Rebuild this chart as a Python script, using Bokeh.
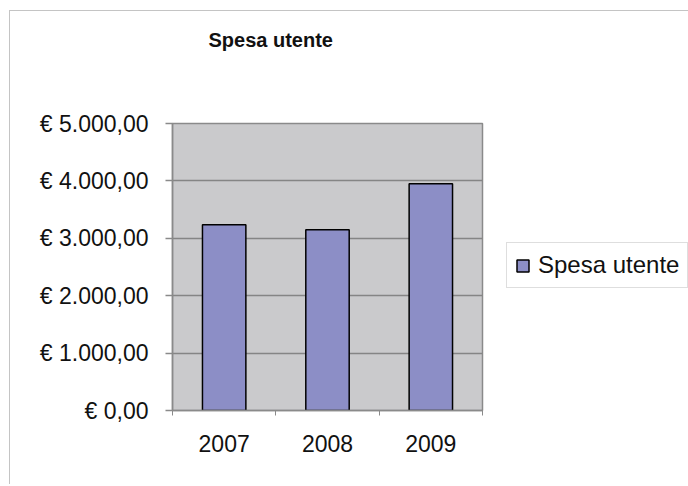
from bokeh.plotting import figure
from bokeh.models import ColumnDataSource, FixedTicker, Legend, LegendItem, Range1d, Title
from bokeh.embed import file_html
from bokeh.resources import INLINE

years = ["2007", "2008", "2009"]
spesa = [3235, 3150, 3950]
y_ticks = [0, 1000, 2000, 3000, 4000, 5000]
y_tick_labels = ["€ 0,00", "€ 1.000,00", "€ 2.000,00", "€ 3.000,00", "€ 4.000,00", "€ 5.000,00"]
series_name = "Spesa utente"
chart_title = "Spesa utente"

FONT = "Liberation Sans"
x_pos = [i + 0.5 for i in range(len(years))]
src = ColumnDataSource(dict(x=x_pos, top=spesa, year=years))

p = figure(title=None, frame_width=310, frame_height=287, output_backend="svg",
           toolbar_location=None,
           x_range=Range1d(0, len(years)), y_range=Range1d(0, y_ticks[-1]),
           min_border_left=162, min_border_right=206, min_border_top=112,
           min_border_bottom=74)
p.styles = {"margin-left": "9px", "margin-top": "10px",
            "border-left": "1px solid #c4c4c4", "border-top": "1px solid #c4c4c4"}
p.background_fill_color = "#CACACC"
p.border_fill_color = "white"
p.outline_line_color = "#8a8a8a"
p.outline_line_width = 1.5

r = p.vbar(x="x", top="top", width=0.42, source=src, fill_color="#8C8EC6",
           line_color="black", line_width=1.5)

spacer = Title(text=" ", text_font_size="1px", standoff=70)
p.add_layout(spacer, "above")
title = Title(text=chart_title, align="left", offset=36, standoff=0,
              text_font=FONT, text_font_size="20px", text_font_style="bold",
              text_color="#111111")
p.add_layout(title, "above")

p.xgrid.visible = False
p.ygrid.ticker = FixedTicker(ticks=y_ticks)
p.ygrid.grid_line_color = "#858585"
p.ygrid.grid_line_width = 1.5

xa = p.xaxis[0]
xa.ticker = FixedTicker(ticks=x_pos, minor_ticks=list(range(len(years) + 1)))
xa.major_label_overrides = {x: y for x, y in zip(x_pos, years)}
xa.major_tick_out = 0
xa.major_tick_in = 0
xa.minor_tick_out = 5
xa.minor_tick_in = 0
xa.minor_tick_line_color = "#8a8a8a"
xa.axis_line_color = "#8a8a8a"
xa.axis_line_width = 1.5
xa.major_label_standoff = 19

ya = p.yaxis[0]
ya.ticker = FixedTicker(ticks=y_ticks, minor_ticks=[])
ya.major_label_overrides = {t: l for t, l in zip(y_ticks, y_tick_labels)}
ya.major_tick_out = 7
ya.major_tick_in = 0
ya.major_tick_line_color = "#8a8a8a"
ya.major_tick_line_width = 1.5
ya.axis_line_color = "#8a8a8a"
ya.axis_line_width = 1.5
ya.major_label_standoff = 17

for ax in (xa, ya):
    ax.major_label_text_font = FONT
    ax.major_label_text_font_size = "23px"
    ax.major_label_text_color = "#111111"

legend = Legend(items=[LegendItem(label=series_name, renderers=[r])], location=(24, 122))
legend.label_text_font = FONT
legend.label_text_font_size = "24px"
legend.label_text_color = "#111111"
legend.glyph_width = 15
legend.glyph_height = 15
legend.label_standoff = 8
legend.padding = 8
legend.margin = 0
legend.border_line_color = "#bdbdbd"
legend.border_line_width = 1.5
legend.background_fill_color = "white"
legend.background_fill_alpha = 1.0
p.add_layout(legend, "right")

open("out.html", "w").write(file_html(p, INLINE))
